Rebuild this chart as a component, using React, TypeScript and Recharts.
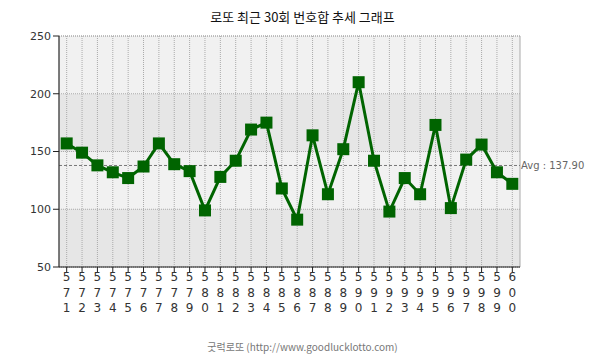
import React from 'react';
import { LineChart, Line, XAxis, YAxis, CartesianGrid, ReferenceArea, ReferenceLine } from 'recharts';

const draws = ['571', '572', '573', '574', '575', '576', '577', '578', '579', '580', '581', '582', '583', '584', '585', '586', '587', '588', '589', '590', '591', '592', '593', '594', '595', '596', '597', '598', '599', '600'];
const sums = [157, 149, 138, 132, 127, 137, 157, 139, 133, 99, 128, 142, 169, 175, 118, 91, 164, 113, 152, 210, 142, 98, 127, 113, 173, 101, 143, 156, 132, 122];
const yTicks = [50, 100, 150, 200, 250];
const avg = 137.9;

const data = draws.map((d, i) => ({ draw: d, sum: sums[i] }));

const axisFont = '"DejaVu Sans", Verdana, sans-serif';

// draw number written top-to-bottom, one digit per line
const StackedTick = ({ x, y, payload }: any) => (
  <text x={x} y={y + 7} textAnchor="middle" fill="#333" fontSize={12} fontFamily={axisFont}>
    {String(payload.value).split('').map((ch, i) => (
      <tspan key={i} x={x} dy={i === 0 ? 0 : 15.5}>{ch}</tspan>
    ))}
  </text>
);

const SquareDot = ({ cx, cy }: any) => (
  <rect x={cx - 6} y={cy - 6} width={12} height={12} fill="#006400" />
);

export default function App() {
  return (
    <div style={{ position: 'absolute', left: 0, top: 0, width: 605, height: 359, background: '#fff' }}>
      <div style={{ position: 'absolute', top: 7, width: 605, textAlign: 'center', fontFamily: '"Noto Sans CJK KR", sans-serif', fontSize: 13, color: '#111' }}>
        로또 최근 30회 번호합 추세 그래프
      </div>
      <LineChart width={605} height={359} data={data} margin={{ top: 36, right: 85, left: 9, bottom: 32 }}>
        <CartesianGrid
          stroke="#aaa"
          strokeDasharray="1 1"
          horizontalFill={['#f1f1f1', '#e6e6e6']}
          fillOpacity={1}
        />
        <ReferenceArea y1={50} y2={250} fill="none" stroke="#aaa" strokeDasharray="1 1" />
        <XAxis
          dataKey="draw"
          scale="band"
          interval={0}
          height={60}
          tick={<StackedTick />}
          axisLine={{ stroke: '#222' }}
          tickLine={{ stroke: '#222' }}
          tickSize={5}
        />
        <YAxis
          domain={[50, 250]}
          ticks={yTicks}
          width={50}
          interval={0}
          tick={{ fill: '#333', fontSize: 11, fontFamily: axisFont }}
          axisLine={{ stroke: '#222' }}
          tickLine={{ stroke: '#222' }}
          tickSize={6}
        />
        <ReferenceLine
          y={avg}
          stroke="#777"
          strokeDasharray="3 2"
          label={{ value: 'Avg : 137.90', position: 'right', fill: '#666', fontSize: 10, fontFamily: axisFont, offset: 1 }}
        />
        <Line
          type="linear"
          dataKey="sum"
          stroke="#006400"
          strokeWidth={3}
          dot={<SquareDot />}
          activeDot={false}
          isAnimationActive={false}
        />
      </LineChart>
      <div style={{ position: 'absolute', top: 339, width: 605, textAlign: 'center', fontFamily: '"Noto Sans CJK KR", sans-serif', fontSize: 10, color: '#777' }}>
        굿럭로또 (http://www.goodlucklotto.com)
      </div>
    </div>
  );
}
